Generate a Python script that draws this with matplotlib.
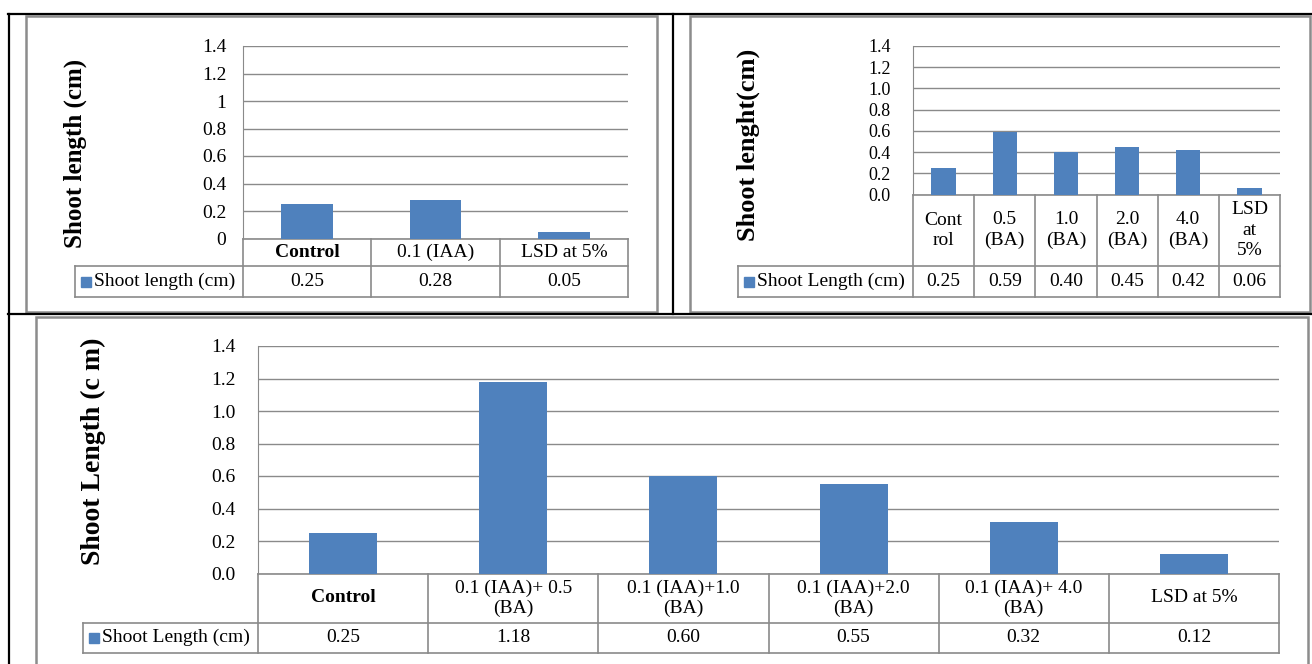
import matplotlib
matplotlib.use('Agg')
import matplotlib.pyplot as plt
from matplotlib.patches import Rectangle
from matplotlib.lines import Line2D

W, H = 1312, 664
BLUE = '#4F81BD'
GRID = '#8A8A8A'

plt.rcParams['font.family'] = ['Liberation Serif', 'DejaVu Serif']

# chart data
tick_vals = [0, 0.2, 0.4, 0.6, 0.8, 1.0, 1.2, 1.4]

c1_cats = ['Control', '0.1 (IAA)', 'LSD at 5%']
c1_vals = [0.25, 0.28, 0.05]
c1_ticks = ['0', '0.2', '0.4', '0.6', '0.8', '1', '1.2', '1.4']
c1_series = 'Shoot length (cm)'
c1_ylabel = 'Shoot length (cm)'

c2_cats = ['Cont\nrol', '0.5\n(BA)', '1.0\n(BA)', '2.0\n(BA)', '4.0\n(BA)', 'LSD\nat\n5%']
c2_vals = [0.25, 0.59, 0.40, 0.45, 0.42, 0.06]
c2_ticks = ['0.0', '0.2', '0.4', '0.6', '0.8', '1.0', '1.2', '1.4']
c2_series = 'Shoot Length (cm)'
c2_ylabel = 'Shoot lenght(cm)'

c3_cats = ['Control', '0.1 (IAA)+ 0.5\n(BA)', '0.1 (IAA)+1.0\n(BA)',
           '0.1 (IAA)+2.0\n(BA)', '0.1 (IAA)+ 4.0\n(BA)', 'LSD at 5%']
c3_vals = [0.25, 1.18, 0.60, 0.55, 0.32, 0.12]
c3_ticks = ['0.0', '0.2', '0.4', '0.6', '0.8', '1.0', '1.2', '1.4']
c3_series = 'Shoot Length (cm)'
c3_ylabel = 'Shoot Length (c m)'

fig = plt.figure(figsize=(W / 100, H / 100), dpi=100)


def fig_line(x0, y0, x1, y1, color='black', lw=1.6):
    fig.add_artist(Line2D([x0 / W, x1 / W], [1 - y0 / H, 1 - y1 / H],
                          color=color, lw=lw, transform=fig.transFigure))


def frame(l, t, r, b):
    fig.add_artist(Rectangle((l / W, 1 - b / H), (r - l) / W, (b - t) / H,
                             transform=fig.transFigure, fill=False,
                             ec='#8C8C8C', lw=1.8))


def chart(box, legend_left, cat_bottom, data_bottom, cats, vals, ticks, series,
          ylabel, ylabel_xy, ylabel_size, pad, bold_first, tick_size=14,
          spacing=1.2):
    l, t, r, b = box
    ax = fig.add_axes([l / W, 1 - b / H, (r - l) / W, (b - t) / H])
    n = len(cats)
    ax.bar(range(n), vals, width=0.4, color=BLUE, zorder=3)
    ax.set_xlim(-0.5, n - 0.5)
    ax.set_ylim(0, 1.4)
    ax.set_yticks(tick_vals)
    ax.set_yticklabels(ticks, fontsize=tick_size)
    ax.tick_params(axis='y', length=0, pad=pad)
    ax.set_xticks([])
    ax.grid(axis='y', color=GRID, lw=1)
    ax.set_axisbelow(True)
    for s in ['top', 'right', 'bottom']:
        ax.spines[s].set_visible(False)
    ax.spines['left'].set_color(GRID)
    ax.patch.set_alpha(0)

    # data table under the axis
    tr = ax.get_xaxis_transform()
    yc = (b - cat_bottom) / (b - t)
    yd = (b - data_bottom) / (b - t)
    px = n / (r - l)
    xl = -0.5 + (legend_left - l) * px
    kw = dict(transform=tr, clip_on=False, color=GRID, lw=1.2)
    ax.plot([-0.5, n - 0.5], [0, 0], **kw)
    ax.plot([xl, n - 0.5], [yc, yc], **kw)
    ax.plot([xl, n - 0.5], [yd, yd], **kw)
    ax.plot([xl, xl], [yc, yd], **kw)
    for i in range(n + 1):
        ax.plot([i - 0.5, i - 0.5], [0, yd], **kw)
    for i, (c, v) in enumerate(zip(cats, vals)):
        ax.text(i, yc / 2, c, transform=tr, ha='center', va='center',
                fontsize=14, linespacing=spacing,
                fontweight='bold' if (bold_first and i == 0) else 'normal')
        ax.text(i, (yc + yd) / 2, '%.2f' % v, transform=tr, ha='center',
                va='center', fontsize=14)
    ym = (yc + yd) / 2
    ax.plot([xl + 11 * px], [ym], marker='s', ms=6.5, color=BLUE,
            transform=tr, clip_on=False, lw=0)
    ax.text(xl + 19 * px, ym, series, transform=tr, ha='left', va='center',
            fontsize=14)

    fig.text(ylabel_xy[0] / W, 1 - ylabel_xy[1] / H, ylabel, rotation=90,
             ha='center', va='center', fontsize=ylabel_size, fontweight='bold')
    return ax


# page borders
fig_line(8, 14, 1312, 14)
fig_line(9, 14, 9, 664)
fig_line(673, 14, 673, 314)
fig_line(8, 314, 1312, 314)

frame(26, 16, 657, 312)
frame(690, 16, 1310, 312)
frame(36, 317, 1308, 680)

chart((243, 46, 628, 238.5), 75, 266, 297, c1_cats, c1_vals, c1_ticks,
      c1_series, c1_ylabel, (75, 153), 18, 12, True)
chart((913, 46, 1280, 194.5), 738, 266, 297, c2_cats, c2_vals, c2_ticks,
      c2_series, c2_ylabel, (748, 145), 19, 16, False, tick_size=13,
      spacing=1.25)
chart((258, 346, 1279, 573.5), 83, 622.5, 653, c3_cats, c3_vals, c3_ticks,
      c3_series, c3_ylabel, (93, 451), 20, 16, True)

fig.savefig('out.png', dpi=100)
